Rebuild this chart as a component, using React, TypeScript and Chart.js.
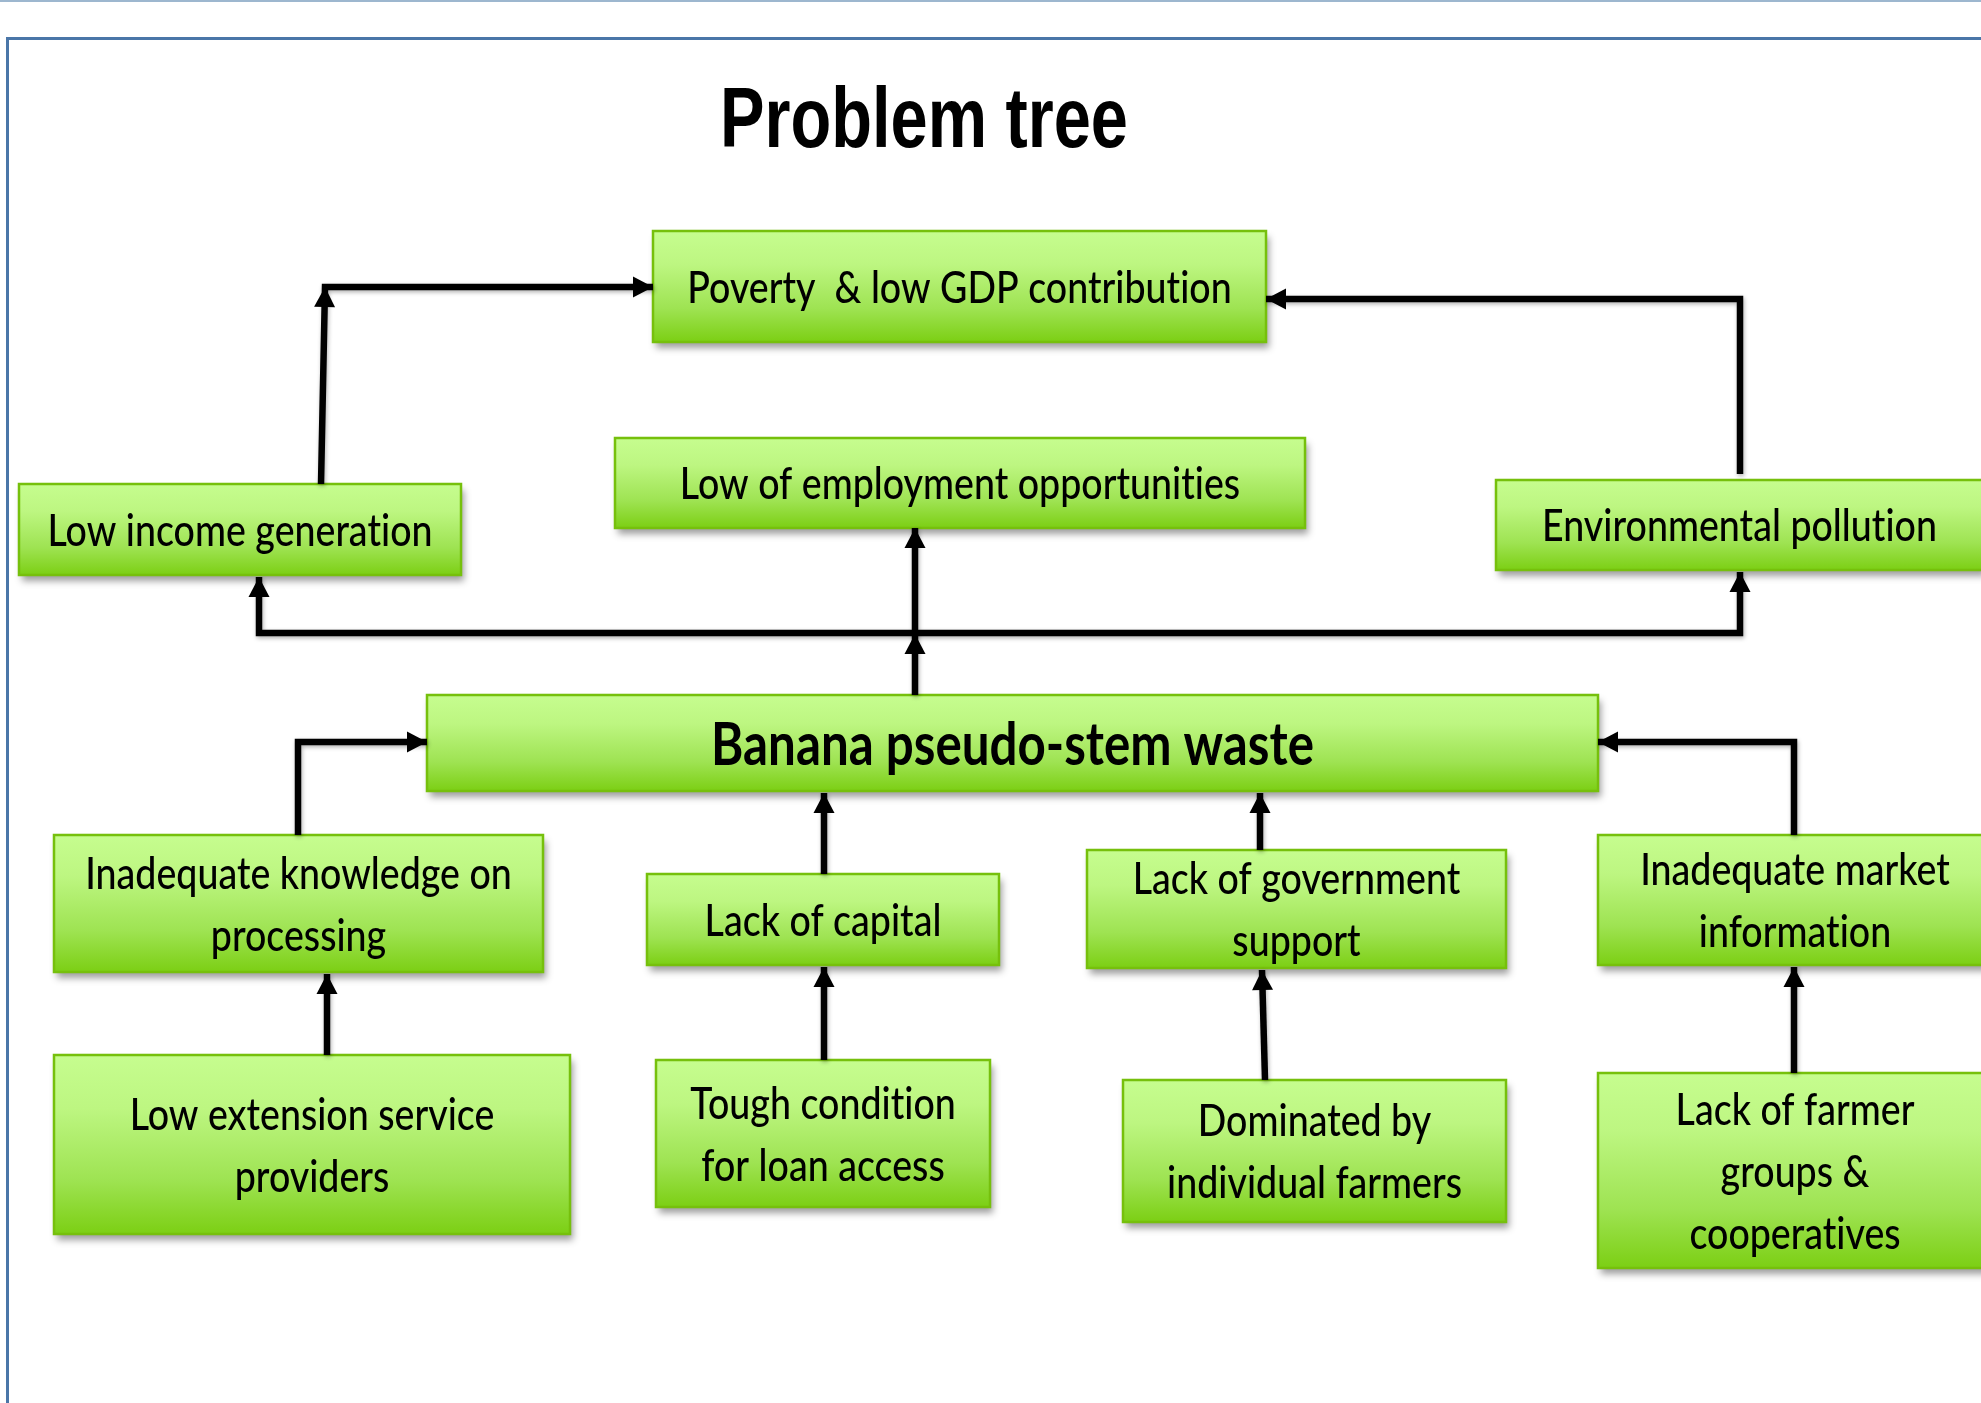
import React, { useEffect, useRef } from "react";
import { Chart, registerables } from "chart.js";

Chart.register(...registerables);

const W = 1981;
const H = 1403;

const TITLE = "Problem tree";

const nodeLabels: string[][] = [
  ["Poverty  & low GDP contribution"],
  ["Low of employment opportunities"],
  ["Low income generation"],
  ["Environmental pollution"],
  ["Banana pseudo-stem waste"],
  ["Inadequate knowledge on", "processing"],
  ["Lack of capital"],
  ["Lack of government", "support"],
  ["Inadequate market", "information"],
  ["Low extension service", "providers"],
  ["Tough condition", "for loan access"],
  ["Dominated by", "individual farmers"],
  ["Lack of farmer", "groups &", "cooperatives"],
];
const coreNode = 4;

// node extents in diagram units
const nodeLeft = [653, 615, 19, 1496, 427, 54, 647, 1087, 1598, 54, 656, 1123, 1598];
const nodeTop = [231, 438, 484, 480, 695, 835, 874, 850, 835, 1055, 1060, 1080, 1073];
const nodeRight = [1266, 1305, 461, 1983, 1598, 543, 999, 1506, 1992, 570, 990, 1506, 1992];
const nodeBottom = [342, 528, 575, 570, 791, 972, 965, 968, 965, 1234, 1207, 1222, 1268];

// connectors: polyline points and indices of arrow heads
const linkPoints: number[][][] = [
  [[321, 484], [325, 287], [653, 287]],
  [[1740, 474], [1740, 299], [1266, 299]],
  [[259, 577], [259, 633], [1740, 633], [1740, 572]],
  [[915, 695], [915, 634], [915, 528]],
  [[298, 835], [298, 742], [427, 742]],
  [[1794, 835], [1794, 742], [1598, 742]],
  [[824, 874], [824, 793]],
  [[1260, 850], [1260, 793]],
  [[327, 1055], [327, 974]],
  [[824, 1060], [824, 967]],
  [[1265, 1080], [1262, 970]],
  [[1794, 1073], [1794, 967]],
];
const linkHeads: number[][] = [
  [1, 2],
  [2],
  [0, 3],
  [1, 2],
  [2],
  [2],
  [1],
  [1],
  [1],
  [1],
  [1],
  [1],
];

const BOX_FONT = "Lato, 'Open Sans', sans-serif";
const TITLE_FONT = "'Liberation Sans', Arial, sans-serif";

function fitScale(ctx: CanvasRenderingContext2D, font: string, text: string, target: number) {
  ctx.save();
  ctx.font = font;
  (ctx as any).letterSpacing = "0.01px";
  const w = ctx.measureText(text).width;
  ctx.restore();
  return w > 0 ? target / w : 1;
}

function drawText(
  ctx: CanvasRenderingContext2D,
  lines: string[],
  cx: number,
  cy: number,
  font: string,
  size: number,
  pitch: number,
  sx: number
) {
  const cap = size * 0.72;
  const blockH = cap + pitch * (lines.length - 1);
  let base = cy - blockH / 2 + cap;
  ctx.save();
  ctx.font = font;
  (ctx as any).letterSpacing = "0.01px";
  ctx.fillStyle = "#000";
  ctx.textAlign = "center";
  ctx.textBaseline = "alphabetic";
  for (const line of lines) {
    ctx.save();
    ctx.translate(cx, base);
    ctx.scale(sx, 1);
    ctx.fillText(line, 0, 0);
    ctx.restore();
    base += pitch;
  }
  ctx.restore();
}

const treePlugin = {
  id: "problemTree",
  beforeDraw(chart: any) {
    const ctx: CanvasRenderingContext2D = chart.ctx;
    ctx.save();
    ctx.fillStyle = "#ffffff";
    ctx.fillRect(0, 0, chart.width, chart.height);
    ctx.restore();
  },
  beforeDatasetsDraw(chart: any) {
    const ctx: CanvasRenderingContext2D = chart.ctx;
    const xs = chart.scales.x;
    const ys = chart.scales.y;
    const px = (v: number) => xs.getPixelForValue(v);
    const py = (v: number) => ys.getPixelForValue(v);

    // page rule + frame
    ctx.save();
    ctx.strokeStyle = "#9db7cf";
    ctx.lineWidth = 2;
    ctx.beginPath();
    ctx.moveTo(px(0), py(1));
    ctx.lineTo(px(W), py(1));
    ctx.stroke();
    ctx.strokeStyle = "#4a76a8";
    ctx.lineWidth = 3;
    ctx.beginPath();
    ctx.moveTo(px(7.5), py(H + 5));
    ctx.lineTo(px(7.5), py(38.5));
    ctx.lineTo(px(W + 5), py(38.5));
    ctx.stroke();
    ctx.restore();

    // title
    const titleSize = 85;
    const titleFont = `bold ${titleSize}px ${TITLE_FONT}`;
    const tsx = fitScale(ctx, titleFont, TITLE, 408);
    ctx.save();
    ctx.font = titleFont;
    ctx.fillStyle = "#000";
    ctx.textAlign = "center";
    ctx.textBaseline = "alphabetic";
    ctx.translate(px(924), py(147));
    ctx.scale(tsx, 1);
    ctx.fillText(TITLE, 0, 0);
    ctx.restore();

    const size = 45;
    const regFont = `500 ${size}px ${BOX_FONT}`;
    const sx = fitScale(ctx, regFont, "Low income generation", 385);
    const bSize = 60;
    const boldFont = `bold ${bSize}px ${BOX_FONT}`;
    const bsx = fitScale(ctx, boldFont, nodeLabels[coreNode][0], 603);

    for (let i = 0; i < nodeLabels.length; i++) {
      const l = px(nodeLeft[i]);
      const r = px(nodeRight[i]);
      const t = py(nodeTop[i]);
      const b = py(nodeBottom[i]);
      const g = ctx.createLinearGradient(0, t, 0, b);
      g.addColorStop(0, "#c6fd8f");
      g.addColorStop(0.3, "#bdf681");
      g.addColorStop(0.7, "#9ee352");
      g.addColorStop(1, "#7ccf14");
      ctx.save();
      ctx.shadowColor = "rgba(0,0,0,0.38)";
      ctx.shadowBlur = 7;
      ctx.shadowOffsetX = 3;
      ctx.shadowOffsetY = 6;
      ctx.fillStyle = g;
      ctx.fillRect(l, t, r - l, b - t);
      ctx.restore();
      ctx.save();
      ctx.strokeStyle = "#76c00c";
      ctx.lineWidth = 2.5;
      ctx.strokeRect(l, t, r - l, b - t);
      ctx.restore();

      const cx = (l + r) / 2;
      const cy = (t + b) / 2;
      if (i === coreNode) {
        drawText(ctx, nodeLabels[i], cx, cy, boldFont, bSize, 62, bsx);
      } else {
        drawText(ctx, nodeLabels[i], cx, cy, regFont, size, 62, sx);
      }
    }
  },
  beforeDatasetDraw(chart: any) {
    const ctx: CanvasRenderingContext2D = chart.ctx;
    ctx.save();
    ctx.shadowColor = "rgba(0,0,0,0.3)";
    ctx.shadowBlur = 4;
    ctx.shadowOffsetX = 1;
    ctx.shadowOffsetY = 2;
  },
  afterDatasetDraw(chart: any) {
    chart.ctx.restore();
  },
  afterDatasetsDraw(chart: any) {
    const ctx: CanvasRenderingContext2D = chart.ctx;
    chart.data.datasets.forEach((ds: any, di: number) => {
      const meta = chart.getDatasetMeta(di);
      const pts = meta.data;
      for (const hi of linkHeads[di]) {
        const tip = pts[hi];
        const from = hi === 0 ? pts[1] : pts[hi - 1];
        const dx = tip.x - from.x;
        const dy = tip.y - from.y;
        const len = Math.hypot(dx, dy) || 1;
        const ux = dx / len;
        const uy = dy / len;
        const L = 20;
        const hw = 10.5;
        const bx = tip.x - ux * L;
        const by = tip.y - uy * L;
        ctx.save();
        ctx.fillStyle = "#000";
        ctx.beginPath();
        ctx.moveTo(tip.x, tip.y);
        ctx.lineTo(bx - uy * hw, by + ux * hw);
        ctx.lineTo(bx + uy * hw, by - ux * hw);
        ctx.closePath();
        ctx.fill();
        ctx.restore();
      }
    });
  },
};

export default function App() {
  const ref = useRef<HTMLCanvasElement | null>(null);
  useEffect(() => {
    const canvas = ref.current;
    if (!canvas) return;
    const chart = new Chart(canvas, {
      type: "scatter",
      data: {
        datasets: linkPoints.map((pts, i) => ({
          type: "line" as const,
          label: `link${i}`,
          data: pts.map(([x, y]) => ({ x, y })),
          borderColor: "#000000",
          borderWidth: 6.5,
          borderJoinStyle: "miter" as const,
          pointRadius: 0,
          pointHoverRadius: 0,
          showLine: true,
          fill: false,
          tension: 0,
          clip: false as any,
        })),
      },
      options: {
        responsive: false,
        maintainAspectRatio: false,
        animation: false,
        events: [],
        layout: { padding: 0 },
        plugins: {
          legend: { display: false },
          tooltip: { enabled: false },
          title: { display: false },
        },
        scales: {
          x: { type: "linear", min: 0, max: W, display: false },
          y: { type: "linear", min: 0, max: H, reverse: true, display: false },
        },
      },
      plugins: [treePlugin as any],
    });
    return () => chart.destroy();
  }, []);
  return (
    <div style={{ position: "fixed", left: 0, top: 0, width: W, height: H, background: "#fff" }}>
      <canvas ref={ref} width={W} height={H} style={{ width: W, height: H, display: "block" }} />
    </div>
  );
}
